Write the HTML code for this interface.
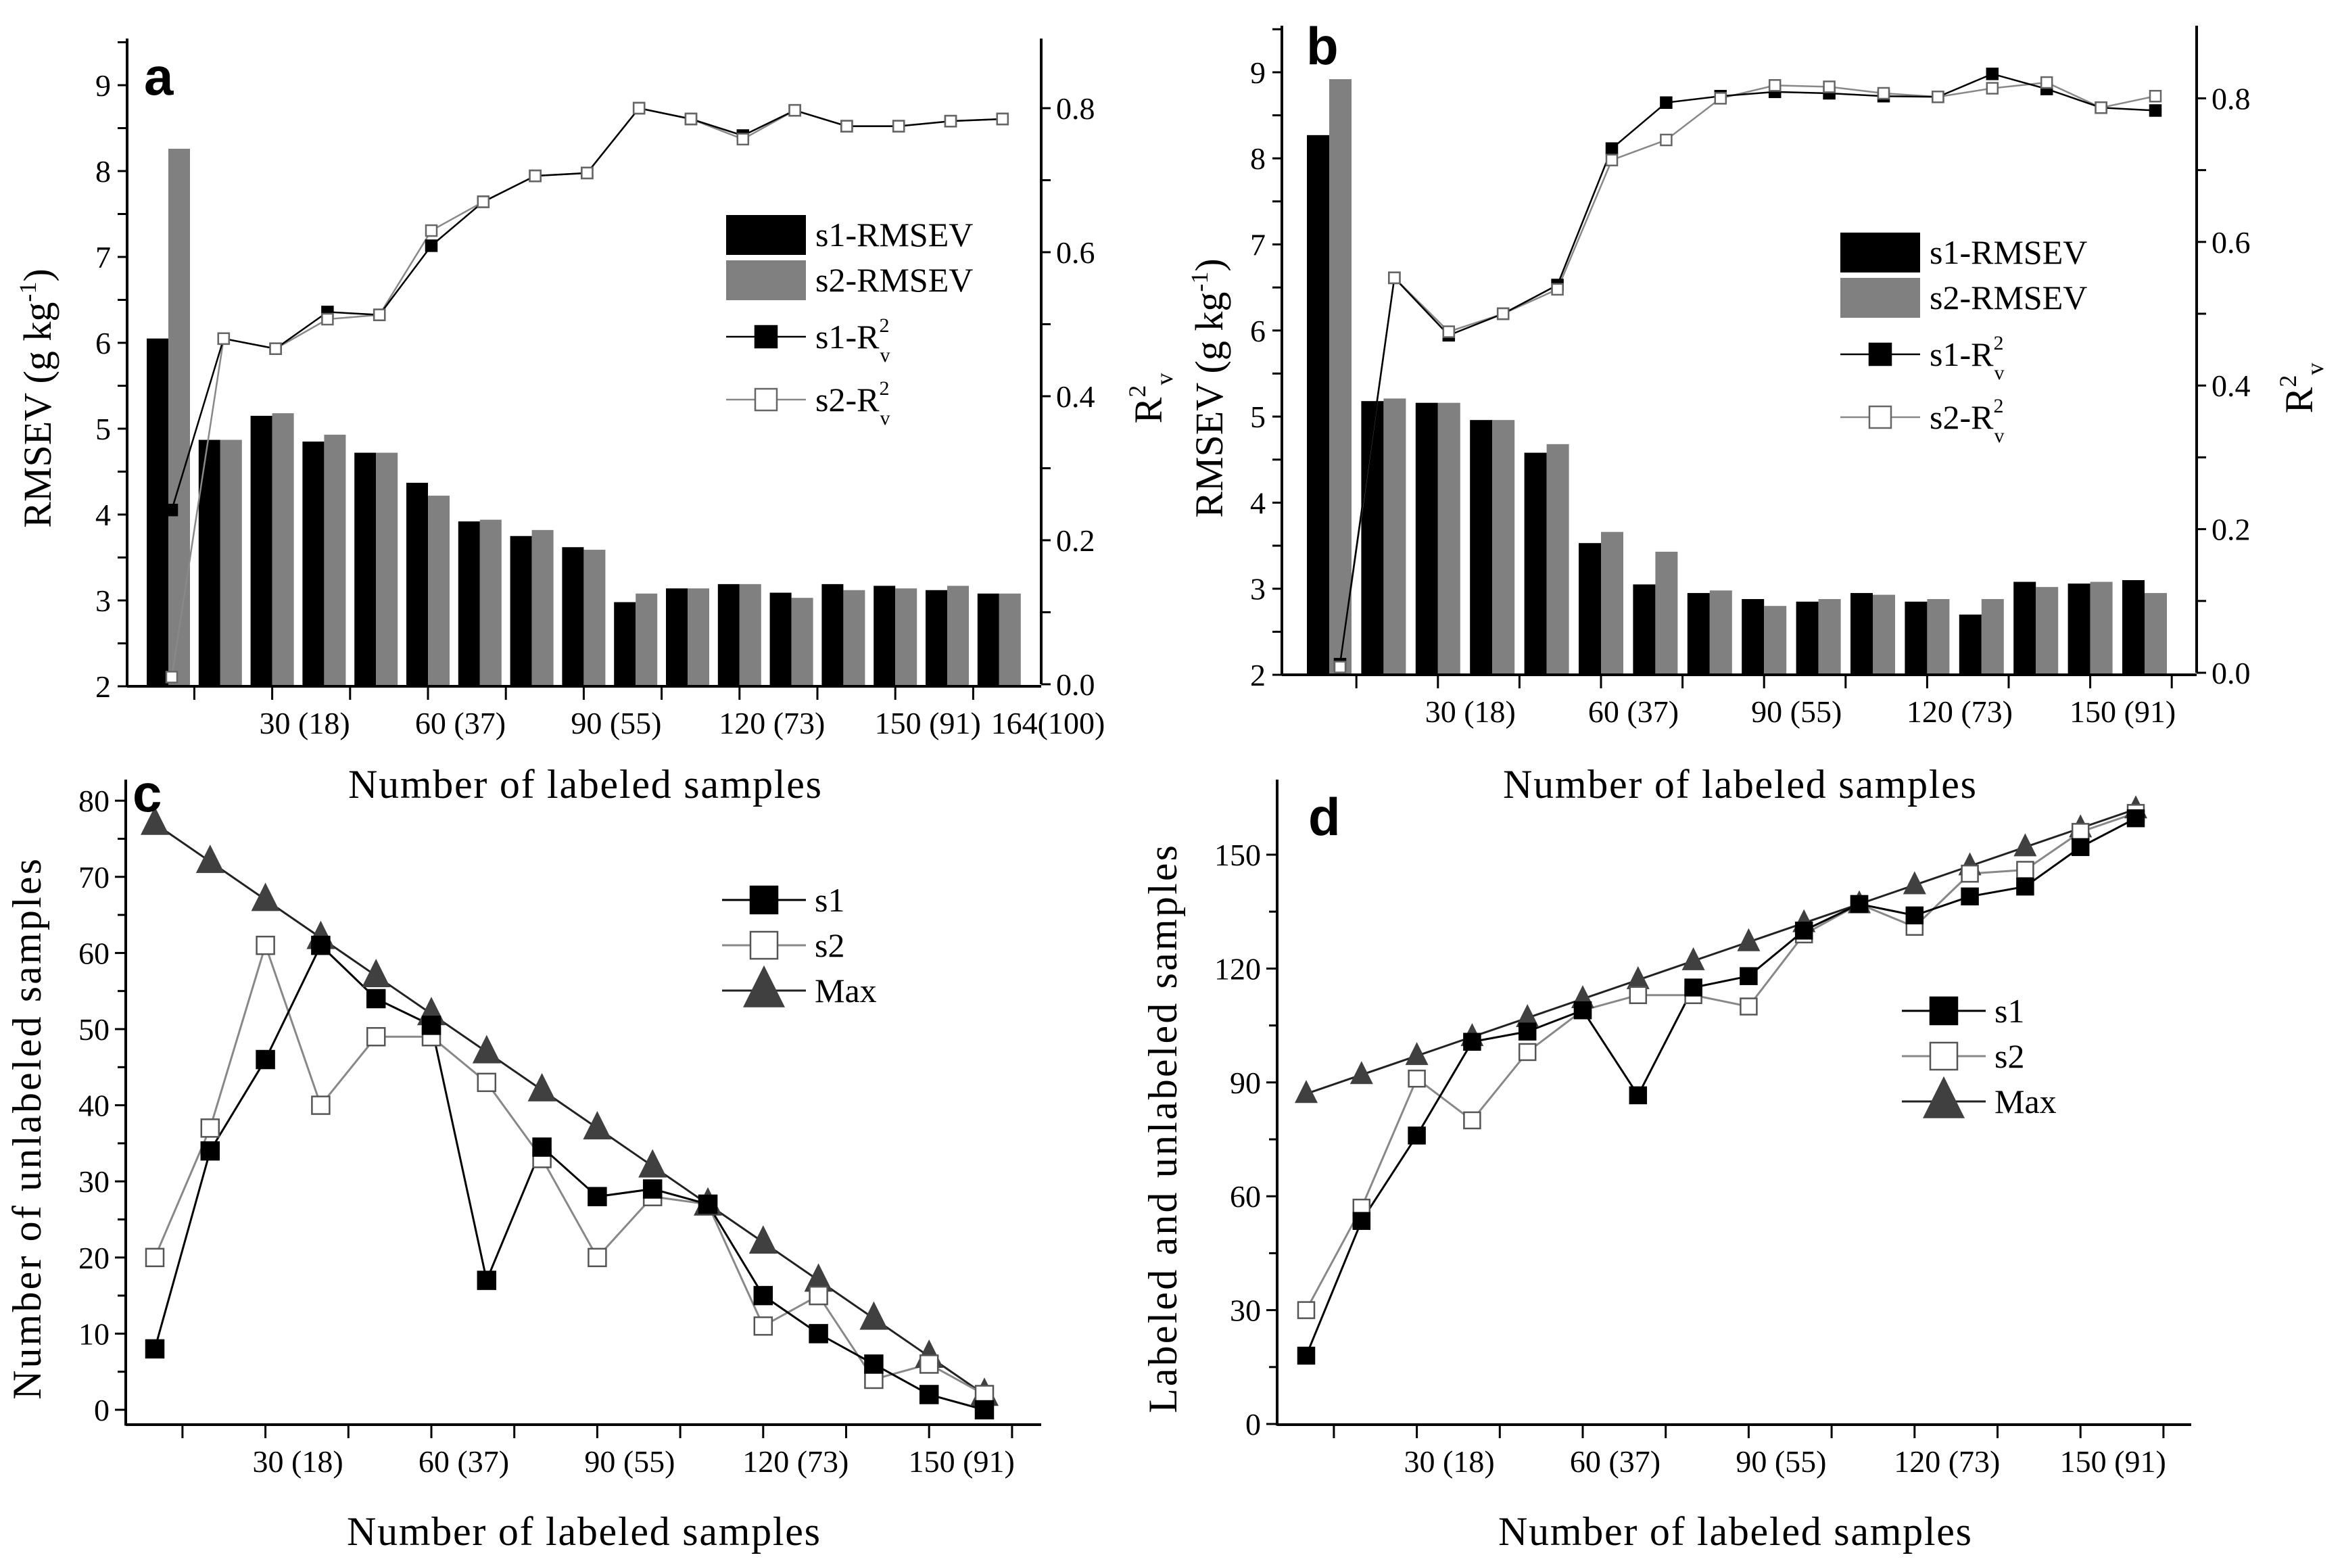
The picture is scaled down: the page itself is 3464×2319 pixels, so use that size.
<!DOCTYPE html>
<html><head><meta charset="utf-8"><style>
html,body{margin:0;padding:0;background:#fff}
svg{display:block}
text{font-family:"Liberation Serif",serif;fill:#000}
.lt{font-family:"Liberation Sans",sans-serif;font-weight:bold}
</style></head><body>
<svg id="fig" xmlns="http://www.w3.org/2000/svg" width="3464" height="2319" viewBox="0 0 3464 2319">
<rect width="3464" height="2319" fill="#fff"/>
</svg>
<script>
// Panel a data
const aS1Rmsev=[6.05,4.87,5.15,4.85,4.72,4.37,3.92,3.75,3.62,2.98,3.14,3.19,3.09,3.19,3.17,3.12,3.08];
const aS2Rmsev=[8.26,4.87,5.18,4.93,4.72,4.22,3.94,3.82,3.59,3.08,3.14,3.19,3.03,3.12,3.14,3.17,3.08];
const aS1R2=[0.242,0.48,0.466,0.517,0.513,0.609,0.67,0.706,0.71,0.80,0.785,0.762,0.797,0.775,0.775,0.782,0.785];
const aS2R2=[0.01,0.48,0.466,0.507,0.513,0.63,0.67,0.706,0.71,0.80,0.785,0.757,0.797,0.775,0.775,0.782,0.785];
const aTickLabels=["30 (18)","60 (37)","90 (55)","120 (73)","150 (91)"];
// Panel b data
const bS1Rmsev=[8.27,5.18,5.16,4.96,4.58,3.53,3.05,2.95,2.88,2.85,2.95,2.85,2.70,3.08,3.06,3.10];
const bS2Rmsev=[8.92,5.21,5.16,4.96,4.68,3.66,3.43,2.98,2.80,2.88,2.93,2.88,2.88,3.02,3.08,2.95];
const bS1R2=[0.012,0.55,0.47,0.50,0.54,0.73,0.794,0.803,0.809,0.807,0.803,0.802,0.834,0.813,0.787,0.783];
const bS2R2=[0.008,0.55,0.475,0.50,0.534,0.714,0.742,0.80,0.818,0.816,0.807,0.802,0.814,0.822,0.787,0.803];
const bTickLabels=["30 (18)","60 (37)","90 (55)","120 (73)","150 (91)"];
// Panel c data
const cS1=[8,34,46,61,54,50.5,17,34.5,28,29,27,15,10,6,2,0];
const cS2=[20,37,61,40,49,49,43,33,20,28,27,11,15,4,6,2];
const cMax=[77,72,67,62,57,52,47,42,37,32,27,22,17,12,7,2];
const cYTicks=[0,10,20,30,40,50,60,70,80];
// Panel d data
const dS1=[18,53.5,76,100.7,103.4,109,86.6,115,118,130,137,134,139,141.6,152,159.6];
const dS2=[30,57,91,80,98,109,113,113,110,129,137,131,145,146,156,161];
const dMax=[87,92,97,102,107,112,117,122,127,132,137,142,147,152,157,162];
const dYTicks=[0,30,60,90,120,150];
const xTickLabels=["30 (18)","60 (37)","90 (55)","120 (73)","150 (91)"];

const NS="http://www.w3.org/2000/svg";
const svg=document.getElementById('fig');
function mk(tag,attrs,parent){const e=document.createElementNS(NS,tag);for(const k in attrs)e.setAttribute(k,attrs[k]);(parent||svg).appendChild(e);return e;}
function txt(s,attrs,parent){const e=mk('text',attrs,parent);e.textContent=s;return e;}
function grp(name){const g=mk('g',{});


return g;}
function sq(g,x,y,s,fill,stroke){const r=mk('rect',{x:x-s/2,y:y-s/2,width:s,height:s,fill:fill,stroke:stroke,'stroke-width':2.5},g);


return r;}
function tri(g,x,y,s){const p=mk('polygon',{points:`${x},${y-s*0.6} ${x-s/2},${y+s*0.4} ${x+s/2},${y+s*0.4}`,fill:'#404040'},g);


return p;}
function line(g,x1,y1,x2,y2,w,c){return mk('line',{x1,y1,x2,y2,stroke:c||'#000','stroke-width':w||3},g);}

// ---------- bar panels (a,b) ----------
function barPanel(o){
  const g=grp(o.name);
  const yL=v=>o.y0-(v-2)*o.pu;
  const yR=v=>o.r0-v*o.ru;
  const xc=i=>o.c0+o.sp*i;
  // bars
  o.s1.forEach((v,i)=>{const r=mk('rect',{x:xc(i)-o.bw,y:yL(v),width:o.bw,height:o.y0-yL(v),fill:'#000'},g);
    
    });
  o.s2.forEach((v,i)=>{const r=mk('rect',{x:xc(i),y:yL(v),width:o.bw,height:o.y0-yL(v),fill:'#808080'},g);
    
    });
  // lines
  const pts2=o.r2b.map((v,i)=>`${xc(i)+o.po},${yR(v)}`).join(' ');
  const l2=mk('polyline',{points:pts2,fill:'none',stroke:'#888','stroke-width':2.5},g);
  
  
  const pts1=o.r2a.map((v,i)=>`${xc(i)+o.po},${yR(v)}`).join(' ');
  const l1=mk('polyline',{points:pts1,fill:'none',stroke:'#000','stroke-width':2.5},g);
  
  
  o.r2a.forEach((v,i)=>sq(g,xc(i)+o.po,yR(v),16,'#000','#000'));
  o.r2b.forEach((v,i)=>sq(g,xc(i)+o.po,yR(v),16,'#fff','#666'));
  // axes
  line(g,o.xl,o.top,o.xl,o.y0+1.5,4);
  line(g,o.xl,o.y0,o.xr,o.y0,4);
  line(g,o.xr,o.top,o.xr,o.r0,4);
  for(let v=2;v<=9.5;v+=0.5){const y=yL(v);line(g,o.xl-14,y,o.xl,y,3);
    if(v%1===0){const t=txt(String(v),{x:o.xl-24,y:y+16,'font-size':46,'text-anchor':'end'},g);
      
      }}
  for(let k=0;k<=8;k++){const v=k/10,y=yR(v);line(g,o.xr,y,o.xr+14,y,3);
    if(k%2===0){const t=txt(v.toFixed(1),{x:o.xr+22,y:y+16,'font-size':46},g);
      
      }}
  for(let j=0;j<o.nt;j++){const x=o.c0+o.sp*(0.5+1.5*j);line(g,x,o.y0,x,o.y0+20,3);
    if(j%2===1&&(j-1)/2<o.labels.length){const t=txt(o.labels[(j-1)/2],{x:x+48,y:o.y0+70,'font-size':46,'text-anchor':'middle'},g);
      
      }}
  // titles
  const xt=txt('Number of labeled samples',{x:o.xtx,y:o.xty,'font-size':60,'text-anchor':'middle',textLength:700},g);
  
  
  const yt=mk('text',{transform:`translate(${o.ytx},${o.yty}) rotate(-90)`,'font-size':58,'text-anchor':'middle'},g);
  
  
  yt.innerHTML='RMSEV (g kg<tspan dy="-22" font-size="36">-1</tspan><tspan dy="22">)</tspan>';
  const rt=mk('text',{transform:`translate(${o.rtx},${o.yty}) rotate(-90)`,'font-size':58,'text-anchor':'middle'},g);
  
  
  rt.innerHTML='R<tspan dy="-24" font-size="36">2</tspan><tspan dy="40" font-size="36">v</tspan>';
  const lt=txt(o.letter,{x:o.lx,y:o.ly,'font-size':78,class:'lt'},g);
  
  
  // legend
  const L=grp('legend');g.appendChild(L);
  mk('rect',{x:o.lgx,y:o.lgy,width:118,height:59,fill:'#000'},L);
  mk('rect',{x:o.lgx,y:o.lgy+67,width:118,height:59,fill:'#808080'},L);
  txt('s1-RMSEV',{x:o.lgx+132,y:o.lgy+46,'font-size':50},L);
  txt('s2-RMSEV',{x:o.lgx+132,y:o.lgy+113,'font-size':50},L);
  const y1=o.lgy+180,y2=o.lgy+273;
  line(L,o.lgx,y1,o.lgx+118,y1,2.5);sq(L,o.lgx+59,y1,32,'#000','#000');
  line(L,o.lgx,y2,o.lgx+118,y2,2.5,'#888');sq(L,o.lgx+59,y2,32,'#fff','#666');
  const e1=mk('text',{x:o.lgx+132,y:y1+17,'font-size':50},L);
  e1.innerHTML='s1-R<tspan dy="-24" font-size="30">2</tspan><tspan dy="44" dx="-14" font-size="30">v</tspan>';
  const e2=mk('text',{x:o.lgx+132,y:y2+17,'font-size':50},L);
  e2.innerHTML='s2-R<tspan dy="-24" font-size="30">2</tspan><tspan dy="44" dx="-14" font-size="30">v</tspan>';
}
barPanel({name:'panel-a',s1:aS1Rmsev,s2:aS2Rmsev,r2a:aS1R2,r2b:aS2R2,labels:aTickLabels,
  y0:1015,pu:127,r0:1012,ru:1065,c0:249,sp:76.8,bw:32,po:5,xl:188,xr:1540,top:57,nt:11,
  xtx:865,xty:1180,ytx:75,yty:589,rtx:1718,letter:'a',lx:213,ly:140,lgx:1074,lgy:318});
txt('164(100)',{x:1550,y:1085,'font-size':46,'text-anchor':'middle'});
barPanel({name:'panel-b',s1:bS1Rmsev,s2:bS2Rmsev,r2a:bS1R2,r2b:bS2R2,labels:bTickLabels,
  y0:998,pu:127.3,r0:995,ru:1062,c0:1966,sp:80.4,bw:33,po:16,xl:1896,xr:3249,top:38,nt:11,
  xtx:2573,xty:1180,ytx:1808,yty:574,rtx:3420,letter:'b',lx:1932,ly:95,lgx:2722,lgy:344});

// ---------- line panels (c,d) ----------
function linePanel(o){
  const g=grp(o.name);
  const y=v=>o.y0-v*o.pu;
  const x=i=>o.x0+o.sp*i;
  const mkLine=(arr,c,n)=>{const p=mk('polyline',{points:arr.map((v,i)=>`${x(i)},${y(v)}`).join(' '),fill:'none',stroke:c,'stroke-width':3},g);
    
    };
  mkLine(o.max,'#222','line-max');
  mkLine(o.s2,'#888','line-s2');
  mkLine(o.s1,'#000','line-s1');
  o.max.forEach((v,i)=>tri(g,x(i),y(v),o.ts));
  o.s2.forEach((v,i)=>sq(g,x(i),y(v),o.ss,'#fff','#555'));
  o.s1.forEach((v,i)=>sq(g,x(i),y(v),o.ss,'#000','#000'));
  line(g,o.xl,o.top,o.xl,o.yb+1.5,4);
  line(g,o.xl,o.yb,o.xr,o.yb,4);
  o.yt.forEach((v,k)=>{const yy=y(v);line(g,o.xl-16,yy,o.xl,yy,3);
    const t=txt(String(v),{x:o.xl-24,y:yy+16,'font-size':46,'text-anchor':'end'},g);
    
    
    if(k<o.yt.length-1){const ym=y((v+o.yt[k+1])/2);line(g,o.xl-12,ym,o.xl,ym,3);}});
  for(let j=0;j<11;j++){const xx=x(0.5+1.5*j);line(g,xx,o.yb,xx,o.yb+20,3);
    if(j%2===1){const t=txt(xTickLabels[(j-1)/2],{x:xx+48,y:o.yb+70,'font-size':46,'text-anchor':'middle'},g);
      
      }}
  const xt=txt('Number of labeled samples',{x:o.xtx,y:2285,'font-size':60,'text-anchor':'middle',textLength:700},g);
  
  
  const yt=txt(o.ytitle,{transform:`translate(${o.ytx},1670) rotate(-90)`,'font-size':60,'text-anchor':'middle',textLength:o.ytl},g);
  
  
  const lt=txt(o.letter,{x:o.lx,y:o.ly,'font-size':78,class:'lt'},g);
  
  
  const L=grp('legend');g.appendChild(L);
  const ys=[o.lgy,o.lgy+67,o.lgy+134];
  line(L,o.lgx,ys[0],o.lgx+124,ys[0],3);sq(L,o.lgx+62,ys[0],40,'#000','#000');
  line(L,o.lgx,ys[1],o.lgx+124,ys[1],3,'#888');sq(L,o.lgx+62,ys[1],40,'#fff','#555');
  line(L,o.lgx,ys[2],o.lgx+124,ys[2],3,'#222');tri(L,o.lgx+62,ys[2],62);
  txt('s1',{x:o.lgx+137,y:ys[0]+17,'font-size':50},L);
  txt('s2',{x:o.lgx+137,y:ys[1]+17,'font-size':50},L);
  txt('Max',{x:o.lgx+137,y:ys[2]+17,'font-size':50},L);
}
linePanel({name:'panel-c',s1:cS1,s2:cS2,max:cMax,yt:cYTicks,y0:2085,pu:11.26,x0:229,sp:81.8,
  xl:186,xr:1540,yb:2107,top:1153,ts:42,ss:26,xtx:863,ytitle:'Number of unlabeled samples',ytx:60,ytl:800,
  letter:'c',lx:196,ly:1200,lgx:1068,lgy:1331});
linePanel({name:'panel-d',s1:dS1,s2:dS2,max:dMax,yt:dYTicks,y0:2106,pu:5.613,x0:1932,sp:81.8,
  xl:1889,xr:3241,yb:2107,top:1153,ts:34,ss:24,xtx:2566,ytitle:'Labeled and unlabeled samples',ytx:1740,ytl:840,
  letter:'d',lx:1935,ly:1235,lgx:2813,lgy:1495});
</script>
</body></html>
